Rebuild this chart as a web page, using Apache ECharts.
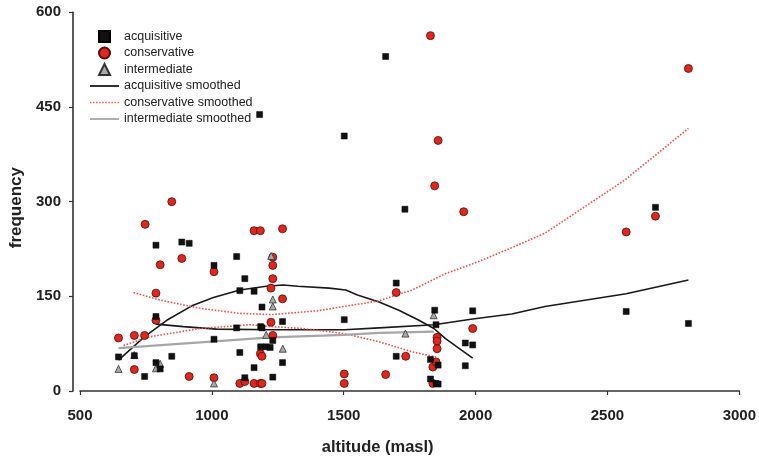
<!DOCTYPE html>
<html>
<head>
<meta charset="utf-8">
<script src="https://cdn.jsdelivr.net/npm/echarts@6/dist/echarts.min.js"></script>
<style>
html,body{margin:0;padding:0;background:#fff;}
#c{width:759px;height:461px;}
</style>
</head>
<body>
<div id="c"></div>
<script>
// ---- data (altitude in masl, frequency) ----
const acquisitive = [
  [646,54],[706,56],[745,23],[788,231],[788,118],[788,45],[804,35],[848,55],[886,236],[914,234],
  [1008,199],[1008,82],[1094,213],[1094,100],[1106,159],[1106,61],[1125,178],[1125,21],[1160,158],[1160,37],
  [1181,438],[1185,102],[1190,100],[1190,133],[1185,70],[1206,70],[1221,69],[1231,80],[1231,22],[1268,110],
  [1268,45],[1502,404],[1502,113],[1659,530],[1699,171],[1699,55],[1732,288],[1829,50],[1829,19],[1845,128],
  [1850,105],[1850,12],[1858,41],[1858,11],[1961,76],[1961,40],[1989,127],[1989,73],[2571,126],[2682,291],[2807,107]
];
const conservative = [
  [646,84],[706,88],[706,34],[745,88],[747,264],[788,155],[788,112],[804,200],[848,300],[886,210],
  [914,23],[1008,189],[1008,21],[1106,12],[1125,15],[1160,254],[1184,254],[1160,12],[1184,12],[1190,12],
  [1184,59],[1190,55],[1224,163],[1224,109],[1231,212],[1231,199],[1231,178],[1231,88],[1268,257],[1268,146],
  [1502,27],[1502,12],[1659,26],[1699,156],[1735,55],[1829,563],[1838,38],[1838,12],[1845,325],[1850,46],
  [1854,85],[1854,79],[1854,67],[1858,397],[1955,284],[1989,99],[2571,252],[2682,277],[2807,511]
];
const intermediate = [
  [646,35],[706,57],[788,36],[804,43],[1008,12],[1206,89],[1225,214],[1231,145],[1231,134],[1269,67],
  [1734,91],[1841,120]
];
// smoothed curves (two fitted branches each where the reference shows two)
const acqSmoothA = [
  [646,49],[745,86],[829,112],[929,136],[1006,148],[1106,160],[1206,166],[1270,168],[1326,166],[1445,163],
  [1508,160],[1552,152],[1634,141],[1709,128],[1785,112],[1842,99],[1886,83],[1936,68],[1989,52]
];
const acqSmoothB = [
  [788,106],[892,102],[1018,98],[1225,97],[1502,97],[1634,100],[1842,105],[1989,114],[2137,122],[2263,134],
  [2571,154],[2807,176]
];
const conSmoothA = [
  [703,156],[804,144],[955,131],[1106,123],[1225,121],[1400,127],[1502,134],[1634,143],[1760,160],[1886,186],
  [2011,205],[2137,227],[2263,250],[2565,334],[2807,416]
];
const conSmoothB = [
  [665,72],[766,86],[955,99],[1143,105],[1225,102],[1345,99],[1502,91],[1634,78],[1760,62],[1850,54]
];
const intSmooth = [
  [646,68],[1225,85],[1502,89],[1634,92],[1842,94]
];
const legendNames = ['acquisitive','conservative','intermediate','acquisitive smoothed','conservative smoothed','intermediate smoothed'];

const FONT = 'Liberation Sans, Arial, sans-serif';
const chart = echarts.init(document.getElementById('c'), null, {renderer:'canvas'});

const blackLine = {color:'#1a1a1a', width:1.6};
const redLine = {color:'#f05050', width:1.6, type:'dotted'};
const grayLine = {color:'#a6a6a6', width:2.2};
const plain = v => String(v);

// legend line icons (solid bar / row of dots)
const solidIcon = 'path://M0,0L29,0L29,1.8L0,1.8Z';
let dots = '';
for (let i = 0; i < 10; i++) { const x0 = i * 3; dots += 'M' + x0 + ',0L' + (x0 + 1.4) + ',0L' + (x0 + 1.4) + ',1.4L' + x0 + ',1.4Z'; }
const dottedIcon = 'path://' + dots;

chart.setOption({
  animation:false,
  backgroundColor:'#fff',
  grid:{left:79.5, right:17, top:12.3, bottom:70},
  legend:{
    orient:'vertical', left:90, top:30, padding:0,
    itemWidth:29, itemHeight:11, itemGap:3.5,
    textStyle:{fontFamily:FONT, fontSize:12.5, color:'#222'},
    data:[
      {name:legendNames[0], icon:'path://M0,0L10,0L10,10L0,10Z'},
      {name:legendNames[1], icon:'circle'},
      {name:legendNames[2], icon:'path://M5,0L10,10L0,10Z'},
      {name:legendNames[3], icon:solidIcon, itemStyle:{color:'#1a1a1a', borderWidth:0}},
      {name:legendNames[4], icon:dottedIcon, itemStyle:{color:'#f05050', borderWidth:0}},
      {name:legendNames[5], icon:solidIcon, itemStyle:{color:'#a6a6a6', borderWidth:0}}
    ]
  },
  xAxis:{
    type:'value', min:500, max:3000, interval:500, offset:5,
    name:'altitude (masl)', nameLocation:'middle', nameGap:43,
    nameTextStyle:{fontFamily:FONT, fontSize:16.5, fontWeight:'bold', color:'#222', padding:[0,64,0,0]},
    axisLine:{lineStyle:{color:'#333', width:1.6}},
    axisTick:{show:true, length:4, lineStyle:{color:'#333', width:1.2}},
    axisLabel:{fontFamily:FONT, fontSize:15, fontWeight:'bold', color:'#222', margin:12, formatter:plain},
    splitLine:{show:false}
  },
  yAxis:{
    type:'value', min:0, max:600, interval:150, offset:7,
    name:'frequency', nameLocation:'middle', nameGap:48,
    nameTextStyle:{fontFamily:FONT, fontSize:17, fontWeight:'bold', color:'#222', padding:[0,12,0,0]},
    axisLine:{show:true, lineStyle:{color:'#333', width:1.6}},
    axisTick:{show:true, length:4, lineStyle:{color:'#333', width:1.2}},
    axisLabel:{fontFamily:FONT, fontSize:15, fontWeight:'bold', color:'#222', margin:12, formatter:plain},
    splitLine:{show:false}
  },
  series:[
    {name:legendNames[3], type:'line', data:acqSmoothA, symbol:'none', lineStyle:blackLine, itemStyle:{color:'#1a1a1a'}, z:2},
    {name:legendNames[3], type:'line', data:acqSmoothB, symbol:'none', lineStyle:blackLine, itemStyle:{color:'#1a1a1a'}, z:2},
    {name:legendNames[4], type:'line', data:conSmoothA, symbol:'none', lineStyle:redLine, itemStyle:{color:'#f05050'}, z:2},
    {name:legendNames[4], type:'line', data:conSmoothB, symbol:'none', lineStyle:redLine, itemStyle:{color:'#f05050'}, z:2},
    {name:legendNames[5], type:'line', data:intSmooth, symbol:'none', lineStyle:grayLine, itemStyle:{color:'#a6a6a6'}, z:2},
    {name:legendNames[0], type:'scatter', data:acquisitive, symbol:'rect', symbolSize:6,
      itemStyle:{color:'#111', borderColor:'#000', borderWidth:0.5, opacity:1}, z:4},
    {name:legendNames[1], type:'scatter', data:conservative, symbol:'circle', symbolSize:8,
      itemStyle:{color:'#e3261c', borderColor:'#5a0b0b', borderWidth:0.8, opacity:1}, z:3},
    {name:legendNames[2], type:'scatter', data:intermediate, symbol:'triangle', symbolSize:7,
      itemStyle:{color:'#a9a9a9', borderColor:'#333', borderWidth:0.8, opacity:1}, z:3}
  ]
});
</script>
</body>
</html>
